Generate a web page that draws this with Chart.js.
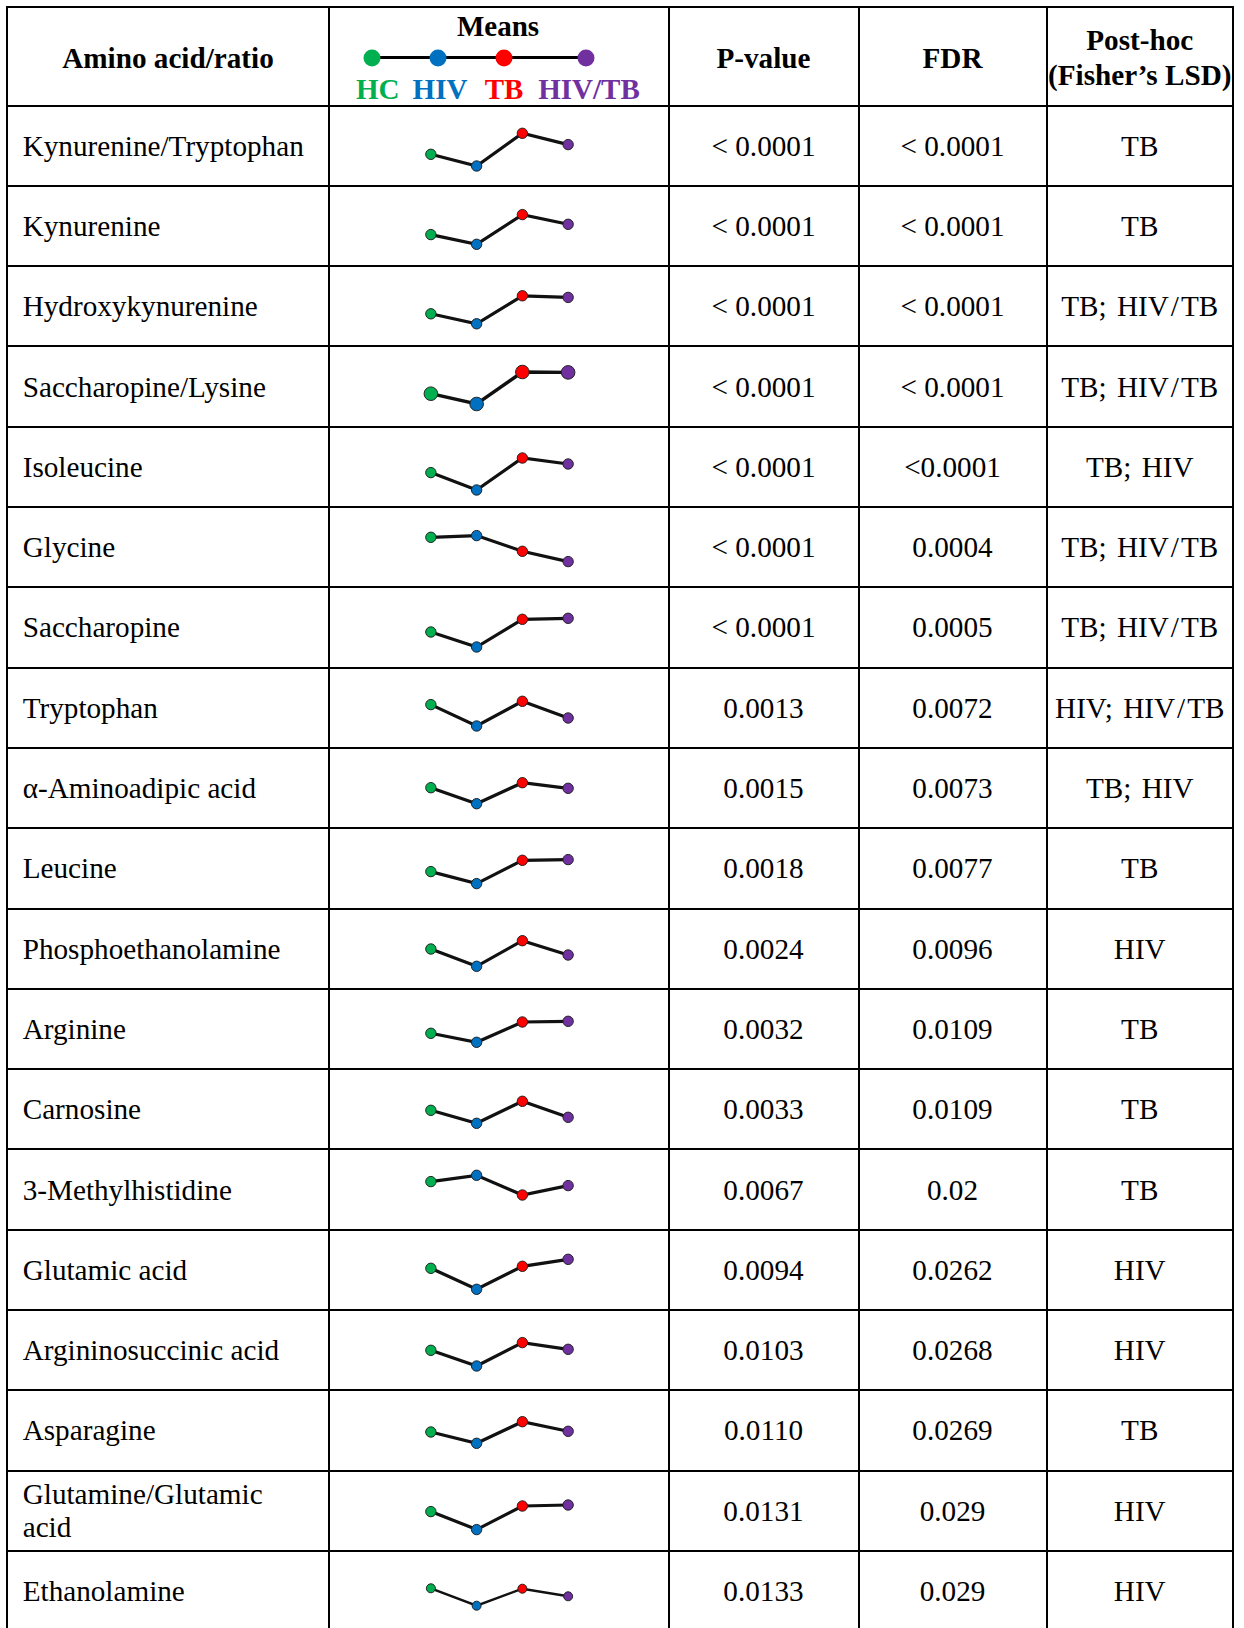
<!DOCTYPE html>
<html>
<head>
<meta charset="utf-8">
<title>Amino acids – group means</title>
<script src="https://cdn.jsdelivr.net/npm/chart.js@4.4.1/dist/chart.umd.min.js"></script>
<style>
  html, body { margin: 0; padding: 0; background: #fff; }
  #sheet {
    position: relative; width: 1244px; height: 1628px; overflow: hidden;
    font-family: "Liberation Serif", "Times New Roman", serif; color: #000;
  }
  .hline { position: absolute; height: 2px; background: #000; }
  .vline { position: absolute; width: 2px; background: #000; }
  .cell {
    position: absolute; display: flex; align-items: center; box-sizing: border-box;
    font-size: 29.2px; line-height: 33px; padding-top: 1px;
  }
  .center { justify-content: center; text-align: center; }
  .head { font-weight: bold; line-height: 35px; padding-top: 4px; }
  .name { padding-left: 14.7px; padding-right: 15px; }
  .posthoc { word-spacing: 3px; white-space: nowrap; }
  .posthoc .sl { margin: 0 2px; }
  .lbl { position: absolute; font-weight: bold; font-size: 29px; line-height: 1; white-space: nowrap; transform: translateX(-50%); }
  .legline { position: absolute; height: 3.4px; background: #000; }
  .legdot { position: absolute; width: 17px; height: 17px; border-radius: 50%; transform: translate(-50%, -50%); }
  .spark { position: absolute; }
</style>
</head>
<body>
<div id="sheet"></div>
<script>
// Groups compared in the means column
const groups = ['HC', 'HIV', 'TB', 'HIV/TB'];
const groupColors = ['#00B050', '#0070C0', '#FF0000', '#7030A0'];

// Amino acids / ratios (table rows)
const analytes = [
  'Kynurenine/Tryptophan', 'Kynurenine', 'Hydroxykynurenine', 'Saccharopine/Lysine',
  'Isoleucine', 'Glycine', 'Saccharopine', 'Tryptophan', 'α-Aminoadipic acid',
  'Leucine', 'Phosphoethanolamine', 'Arginine', 'Carnosine', '3-Methylhistidine',
  'Glutamic acid', 'Argininosuccinic acid', 'Asparagine', 'Glutamine/Glutamic acid',
  'Ethanolamine'
];

// Relative group means (scaled), one array per group
const hcMeans    = [-0.83, -0.86, -0.78, -0.77, -0.56,  0.97, -0.50,  0.34,  0.03, -0.36,  0.00, -0.43, -0.13,  0.74,  0.17, -0.03, -0.20, -0.06,  0.27];
const hivMeans   = [-2.00, -1.83, -1.78, -1.80, -2.30,  1.14, -2.00, -1.80, -1.57, -1.56, -1.73, -1.33, -1.43,  1.37, -1.93, -1.60, -1.33, -1.86, -1.47];
const tbMeans    = [ 1.27,  1.14,  1.02,  1.40,  0.90, -0.43,  0.77,  0.67,  0.53,  0.77,  0.83,  0.70,  0.77, -0.60,  0.37,  0.74,  0.83,  0.50,  0.23];
const hivTbMeans = [ 0.14,  0.17,  0.86,  1.36,  0.30, -1.46,  0.87, -1.00, -0.03,  0.84, -0.60,  0.77, -0.83,  0.34,  1.07,  0.07, -0.13,  0.60, -0.53];

const pValues = [
  '< 0.0001', '< 0.0001', '< 0.0001', '< 0.0001', '< 0.0001', '< 0.0001', '< 0.0001',
  '0.0013', '0.0015', '0.0018', '0.0024', '0.0032', '0.0033', '0.0067', '0.0094',
  '0.0103', '0.0110', '0.0131', '0.0133'
];
const fdrValues = [
  '< 0.0001', '< 0.0001', '< 0.0001', '< 0.0001', '<0.0001', '0.0004', '0.0005',
  '0.0072', '0.0073', '0.0077', '0.0096', '0.0109', '0.0109', '0.02', '0.0262',
  '0.0268', '0.0269', '0.029', '0.029'
];
const postHoc = [
  'TB', 'TB', 'TB; HIV/TB', 'TB; HIV/TB', 'TB; HIV', 'TB; HIV/TB', 'TB; HIV/TB',
  'HIV; HIV/TB', 'TB; HIV', 'TB', 'HIV', 'TB', 'TB', 'TB', 'HIV', 'HIV', 'TB', 'HIV', 'HIV'
];

// Marker / line sizes per row of sparklines
const pointSizes = [5.2, 5.2, 5.2, 6.8, 5.2, 5.2, 5.2, 5.2, 5.2, 5.2, 5.2, 5.2, 5.2, 5.2, 5.2, 5.2, 5.2, 5.2, 4.5];
const lineWidths = [3.2, 3.2, 3.2, 3.4, 3.2, 3.2, 3.2, 3.2, 3.2, 3.2, 3.2, 3.2, 3.2, 3.2, 3.2, 3.2, 3.2, 3.2, 2.4];

// ---- table geometry ----
const colX = [7, 329, 668.5, 858.5, 1046.5, 1233];   // vertical rule centres
const tableTop = 7;
const headBottom = 105.5;
const rowH = 80.3;

const sheet = document.getElementById('sheet');
function el(cls, css, html) {
  const d = document.createElement('div');
  d.className = cls;
  Object.assign(d.style, css);
  if (html !== undefined) d.innerHTML = html;
  sheet.appendChild(d);
  return d;
}

// horizontal rules
const rowTops = analytes.map((_, i) => headBottom + i * rowH);
[tableTop, headBottom, ...rowTops.slice(1)].forEach(y => {
  el('hline', { left: (colX[0] - 1) + 'px', width: (colX[5] - colX[0] + 2) + 'px', top: (y - 1) + 'px' });
});
// vertical rules
colX.forEach(x => {
  el('vline', { left: (x - 1) + 'px', top: (tableTop - 1) + 'px', height: (1628 - tableTop + 2) + 'px' });
});

function cellBox(c, top, bottom) {
  return {
    left: (colX[c] + 1) + 'px', width: (colX[c + 1] - colX[c] - 2) + 'px',
    top: (top + 1) + 'px', height: (bottom - top - 2) + 'px'
  };
}

// header
el('cell head center', cellBox(0, tableTop, headBottom), 'Amino acid/ratio');
el('cell head center', cellBox(2, tableTop, headBottom), 'P-value');
el('cell head center', cellBox(3, tableTop, headBottom), 'FDR');
el('cell head center', cellBox(4, tableTop, headBottom), 'Post-hoc<br>(Fisher’s LSD)');

// means legend in the header
el('lbl', { left: '498px', top: '12px' }, 'Means');
const legX = [372.3, 438.3, 504, 585.7];
const legLabelX = [377.7, 440, 504, 589];
const legY = 57.5;
el('legline', { left: legX[0] + 'px', width: (legX[3] - legX[0]) + 'px', top: (legY - 1.7) + 'px' });
groups.forEach((g, i) => {
  el('legdot', { left: legX[i] + 'px', top: legY + 'px', background: groupColors[i] });
  el('lbl', { left: legLabelX[i] + 'px', top: '74.5px', color: groupColors[i] }, g);
});

// body rows
analytes.forEach((name, i) => {
  const top = rowTops[i], bottom = top + rowH;
  el('cell name', cellBox(0, top, bottom), name);
  el('cell center', cellBox(2, top, bottom), pValues[i].replace('<', '&lt;'));
  el('cell center', cellBox(3, top, bottom), fdrValues[i].replace('<', '&lt;'));
  el('cell center posthoc', cellBox(4, top, bottom), postHoc[i].split('/').join('<span class="sl">/</span>'));

  // sparkline of the four group means
  const W = 183, H = 80;
  const canvas = document.createElement('canvas');
  canvas.width = W; canvas.height = H;
  canvas.className = 'spark';
  Object.assign(canvas.style, { left: '408px', top: top + 'px', width: W + 'px', height: H + 'px' });
  sheet.appendChild(canvas);

  new Chart(canvas, {
    type: 'line',
    data: {
      labels: groups,
      datasets: [{
        data: [hcMeans[i], hivMeans[i], tbMeans[i], hivTbMeans[i]],
        borderColor: '#111',
        borderWidth: lineWidths[i],
        pointBackgroundColor: groupColors,
        pointBorderColor: '#222',
        pointBorderWidth: 1,
        pointRadius: pointSizes[i],
        tension: 0,
        fill: false,
        clip: false
      }]
    },
    options: {
      responsive: false,
      animation: false,
      events: [],
      layout: { padding: 0, autoPadding: false },
      plugins: { legend: { display: false }, tooltip: { enabled: false } },
      scales: {
        x: { display: false, offset: true },
        y: { display: false, min: -4, max: 4 }
      }
    }
  });
});
</script>
</body>
</html>
